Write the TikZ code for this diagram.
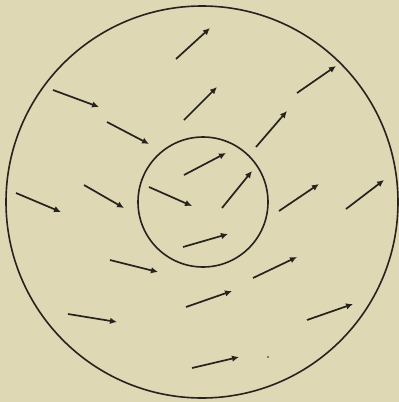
\documentclass[tikz,border=0pt]{standalone}
\usetikzlibrary{arrows.meta}
\definecolor{paper}{RGB}{223,216,180}
\definecolor{ink}{RGB}{38,34,30}
\tikzset{
  ring/.style={circle, draw=ink, line width=1.6pt, inner sep=0pt},
  vec/.style={draw=ink, line width=1.7pt, -{Latex[length=7pt,width=6.5pt]}},
}
\begin{document}
\begin{tikzpicture}[x=1pt,y=-1pt]
\path[fill=paper] (0,0) rectangle (399,402);
\useasboundingbox (0,0) rectangle (399,402);
\node[ring, minimum size=392pt] (outer) at (202,202) {};
\node[ring, minimum size=130pt] (inner) at (203,202) {};
\foreach \i/\ax/\ay/\bx/\by in {
  1/176/59/210/28, 2/297/93/336/66, 3/53/90/99/107, 4/184/120/217/87,
  5/107/122/149/144, 6/256/147/287/111, 7/184/175/226/153, 8/16/193/61/212,
  9/84/185/124/208, 10/149/187/192/206, 11/222/208/252/171, 12/279/211/319/184,
  13/346/209/384/180, 14/183/247/228/234, 15/110/260/158/272, 16/253/278/297/257,
  17/186/307/232/291, 18/307/320/353/304, 19/68/314/117/322, 20/192/368/239/357}
{
  \coordinate (t\i) at (\ax,\ay);
  \coordinate (h\i) at (\bx,\by);
  \draw[vec] (t\i) -- (h\i);
}
\fill[ink] (268,357) circle (0.8pt);
\end{tikzpicture}
\end{document}
